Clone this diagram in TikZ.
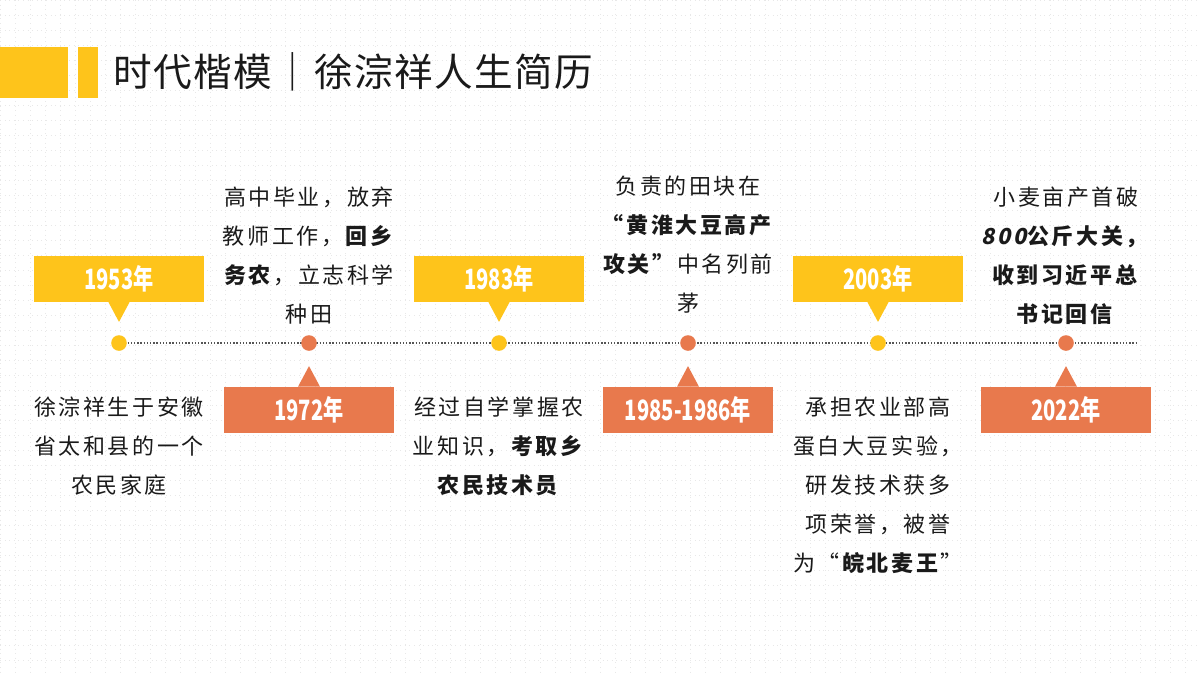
\documentclass[tikz,border=0pt]{standalone}
\usepackage{fontspec}
\setmainfont{Noto Sans CJK SC}
\newfontfamily\bodyf[LetterSpace=12]{Noto Sans CJK SC}
\newfontfamily\slantf[LetterSpace=12,FakeSlant=0.2]{Noto Sans CJK SC}
\newfontfamily\titlef[LetterSpace=4]{Noto Sans CJK SC}
\newfontfamily\yearf[FakeStretch=0.72]{Noto Sans CJK SC}
\definecolor{ylw}{HTML}{FEC41B}
\definecolor{org}{HTML}{E8794D}
\definecolor{txt}{HTML}{1A1A1A}
\definecolor{tline}{HTML}{555555}
\tikzset{
  gridline/.style={draw=black!9, line width=0.3pt, dotted},
  ybox/.style={fill=ylw, minimum width=85pt, minimum height=23pt, inner sep=0pt, text=white, font=\yearf\bfseries\fontsize{14}{15}\selectfont},
  obox/.style={ybox, fill=org},
  ydot/.style={circle, fill=ylw, minimum size=7.8pt, inner sep=0pt},
  odot/.style={ydot, fill=org},
  body/.style={align=center, inner sep=0pt, text=txt, font=\bodyf\fontsize{11}{19.5}\selectfont},
  tl/.style={draw=tline, line width=0.8pt, dash pattern=on 0.7pt off 0.9pt}
}
\begin{document}
\begin{tikzpicture}[x=0.5pt,y=-0.5pt]
\useasboundingbox (0,0) rectangle (1200,675);
\fill[white] (0,0) rectangle (1200,675);
% faint background grid
\foreach \gx in {0,15,...,1200} \draw[gridline] (\gx,0) -- (\gx,675);
\foreach \gy in {0,15,...,675} \draw[gridline] (0,\gy) -- (1200,\gy);
% title
\fill[ylw] (0,47) rectangle (68,98);
\fill[ylw] (78,47) rectangle (98,98);
\node[anchor=west, inner sep=0pt, text=txt, font=\titlef\fontsize{19.3}{21}\selectfont] (title) at (113,72) {时代楷模｜徐淙祥人生简历};
% timeline
\coordinate (tls) at (118,343);
\coordinate (tle) at (1137,343);
\draw[tl] (tls) -- (tle);
\node[ydot] (d1) at (119,343) {};
\node[odot] (d2) at (309,343) {};
\node[ydot] (d3) at (499,343) {};
\node[odot] (d4) at (688,343) {};
\node[ydot] (d5) at (878,343) {};
\node[odot] (d6) at (1066,343) {};
% year callouts
\node[ybox] (b1) at (119,278.5) {1953年};
\node[obox] (b2) at (309,409.5) {1972年};
\node[ybox] (b3) at (499,278.5) {1983年};
\node[obox] (b4) at (688,409.5) {1985-1986年};
\node[ybox] (b5) at (878,278.5) {2003年};
\node[obox] (b6) at (1066,409.5) {2022年};
\foreach \b in {b1,b3,b5}
  \fill[ylw] ([xshift=-5.5pt,yshift=0.3pt]\b.south) -- ([xshift=5.5pt,yshift=0.3pt]\b.south) -- ([yshift=-10pt]\b.south) -- cycle;
\foreach \b in {b2,b4,b6}
  \fill[org] ([xshift=-5.5pt,yshift=-0.3pt]\b.north) -- ([xshift=5.5pt,yshift=-0.3pt]\b.north) -- ([yshift=10pt]\b.north) -- cycle;
% texts
\node[body] (t1) at (119,446) {徐淙祥生于安徽\\省太和县的一个\\农民家庭};
\node[body] (t2) at (309,255.5) {高中毕业，放弃\\教师工作，\textbf{回乡}\\\textbf{务农}，立志科学\\种田};
\node[body] (t3) at (499,446) {经过自学掌握农\\业知识，\textbf{考取乡}\\\textbf{农民技术员}};
\node[body] (t4) at (688,244.5) {负责的田块在\\\textbf{“黄淮大豆高产}\\\textbf{攻关”}中名列前\\茅};
\node[body] (t5) at (878,485) {承担农业部高\\蛋白大豆实验，\\研发技术获多\\项荣誉，被誉\\为“\textbf{皖北麦王}”};
\node[body] (t6) at (1066,255.5) {小麦亩产首破\\\textbf{{\slantf\bfseries 800}公斤大关，}\\\textbf{收到习近平总}\\\textbf{书记回信}};
\end{tikzpicture}
\end{document}
